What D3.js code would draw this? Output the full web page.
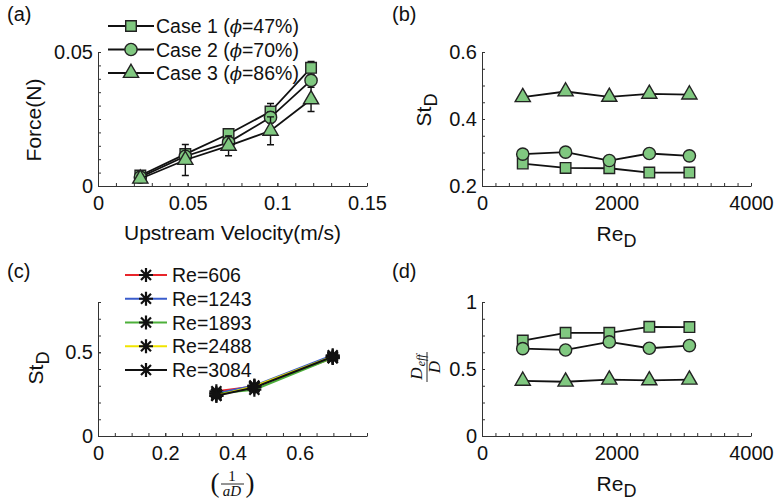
<!DOCTYPE html>
<html>
<head>
<meta charset="utf-8">
<script src="https://cdn.jsdelivr.net/npm/d3@7"></script>
<style>
body { margin: 0; background: #fff; }
text { font-family: "Liberation Sans", Arial, Helvetica, sans-serif; fill: #111; }
.tex { font-family: "Liberation Serif", "Times New Roman", serif; }
</style>
</head>
<body>
<script>
var width = 776,
    height = 504;

// (a) drag force vs upstream velocity
var velocity = [0.0236, 0.0487, 0.0728, 0.0962, 0.1188];
var forceCase1 = [0.0039, 0.0119, 0.0194, 0.0278, 0.0441];
var forceCase2 = [0.0033, 0.0111, 0.0163, 0.0256, 0.0394];
var forceCase3 = [0.0027, 0.0097, 0.0150, 0.0206, 0.0323];
var errCase1 = [0.0015, 0.0016, 0.0010, 0.0030, 0.0024];
var errCase2 = [0.0010, 0.0013, 0.0014, 0.0020, 0.0016];
var errCase3 = [0.0012, 0.0058, 0.0037, 0.0052, 0.0045];
var caseNames = ["Case 1", "Case 2", "Case 3"];
var porosity = ["47%", "70%", "86%"];

// (b) Strouhal number and (d) effective diameter vs Re
var reynolds = [606, 1243, 1893, 2488, 3084];
var stCase1 = [0.267, 0.254, 0.253, 0.240, 0.240];
var stCase2 = [0.295, 0.301, 0.276, 0.297, 0.290];
var stCase3 = [0.465, 0.482, 0.466, 0.475, 0.473];
var deffCase1 = [0.712, 0.770, 0.770, 0.815, 0.813];
var deffCase2 = [0.652, 0.642, 0.702, 0.655, 0.675];
var deffCase3 = [0.412, 0.405, 0.420, 0.415, 0.420];

// (c) St vs 1/(aD), one line per Re
var invAD = [0.352, 0.465, 0.698];
var reColors = ["#e8252b", "#3a5ccc", "#4db03a", "#f0e400", "#111111"];

// tick values
var xTicksA = [0, 0.05, 0.1, 0.15],
    yTicksA = [0, 0.05],
    xTicksRe = [0, 2000, 4000],
    yTicksB = [0.2, 0.4, 0.6],
    xTicksC = [0, 0.2, 0.4, 0.6],
    yTicksC = [0, 0.5],
    yTicksD = [0, 0.5, 1];

var green = "#80c880",
    edge = "#222";

var svg = d3.select("body")
            .append("svg")
            .attr("width", width)
            .attr("height", height);

var pw = 269, ph = 134;

function minorTicks(domain, step) {
    var n = Math.round((domain[1] - domain[0]) / step);
    return d3.range(n + 1).map(function(i) { return domain[0] + i * step; });
}

// matlab style axes: box off, ticks pointing in
function panel(left, top, xDomain, yDomain, xTicks, yTicks, xMinor, yMinor) {
    var g = svg.append("g").attr("transform", "translate(" + left + "," + top + ")");
    var x = d3.scaleLinear().domain(xDomain).range([0, pw]);
    var y = d3.scaleLinear().domain(yDomain).range([ph, 0]);

    g.append("g")
        .attr("transform", "translate(0," + ph + ")")
        .call(d3.axisBottom(x).tickValues(minorTicks(xDomain, xMinor)).tickSize(-3).tickFormat(""))
        .call(function(a) { a.select(".domain").remove(); });
    g.append("g")
        .call(d3.axisLeft(y).tickValues(minorTicks(yDomain, yMinor)).tickSize(-3).tickFormat(""))
        .call(function(a) { a.select(".domain").remove(); });

    g.append("g")
        .attr("transform", "translate(0," + ph + ")")
        .call(d3.axisBottom(x).tickValues(xTicks).tickSizeInner(-3).tickSizeOuter(0)
            .tickPadding(10).tickFormat(function(d) { return String(d); }));
    g.append("g")
        .call(d3.axisLeft(y).tickValues(yTicks).tickSizeInner(-3).tickSizeOuter(0)
            .tickPadding(5).tickFormat(function(d) { return String(d); }));

    g.selectAll(".tick text").attr("font-size", 20).attr("font-family", null).attr("fill", "#111");
    g.selectAll(".domain, .tick line").attr("stroke", "#333");
    return {g: g, x: x, y: y};
}

var symbols = {
    square: d3.symbol(d3.symbolSquare, 112)(),
    circle: d3.symbol(d3.symbolCircle, 118)(),
    triangle: d3.symbol(d3.symbolTriangle, 100)()
};
var asterisk = "M-7,0H7M0,-7V7M-5,-5L5,5M-5,5L5,-5";

function drawMarkers(g, xs, ys, shape) {
    g.append("g").selectAll("path")
        .data(xs)
        .enter().append("path")
        .attr("transform", function(d, i) { return "translate(" + d + "," + ys[i] + ")"; })
        .attr("d", symbols[shape])
        .attr("fill", green)
        .attr("stroke", edge)
        .attr("stroke-width", 1.4);
}

function drawLine(g, xs, ys, color, w) {
    g.append("path")
        .datum(xs)
        .attr("fill", "none")
        .attr("stroke", color)
        .attr("stroke-width", w)
        .attr("d", d3.line().x(function(d) { return d; }).y(function(d, i) { return ys[i]; }));
}

function panelLabel(txt, x, y) {
    svg.append("text").attr("x", x).attr("y", y).attr("font-size", 20).text(txt);
}

var shapes = ["square", "circle", "triangle"];

// ---------------- (a)
var A = panel(98, 52, [0, 0.15], [0, 0.05], xTicksA, yTicksA, 0.01, 0.005);
var forces = [forceCase1, forceCase2, forceCase3],
    errs = [errCase1, errCase2, errCase3];

forces.forEach(function(f, k) {
    var xs = velocity.map(function(v) { return A.x(v); });
    var ys = f.map(function(v) { return A.y(v); });
    A.g.append("g").selectAll("path")
        .data(velocity)
        .enter().append("path")
        .attr("fill", "none")
        .attr("stroke", "#111")
        .attr("stroke-width", 1.4)
        .attr("d", function(v, i) {
            var cx = A.x(v), y1 = A.y(f[i] - errs[k][i]), y2 = A.y(f[i] + errs[k][i]);
            return "M" + cx + "," + y1 + "V" + y2 + "M" + (cx - 3.5) + "," + y1 + "h7M" + (cx - 3.5) + "," + y2 + "h7";
        });
    drawLine(A.g, xs, ys, "#111", 1.8);
    drawMarkers(A.g, xs, ys, shapes[k]);
});

// legend (a)
caseNames.forEach(function(name, k) {
    var ly = 26 + k * 23.5;
    svg.append("line").attr("x1", 108).attr("x2", 154).attr("y1", ly).attr("y2", ly)
        .attr("stroke", "#111").attr("stroke-width", 1.8);
    drawMarkers(svg, [131], [ly], shapes[k]);
    var t = svg.append("text").attr("x", 156).attr("y", ly).attr("dy", "0.36em").attr("font-size", 19.5);
    t.append("tspan").text(name + " (");
    t.append("tspan").attr("font-family", "DejaVu Serif, serif").attr("font-style", "italic").attr("font-size", 18).text("\u03D5");
    t.append("tspan").text("=" + porosity[k] + ")");
});

svg.append("text").attr("x", 98 + pw / 2).attr("y", 240).attr("text-anchor", "middle")
    .attr("font-size", 21).text("Upstream Velocity(m/s)");
svg.append("text").attr("transform", "translate(41,120) rotate(-90)").attr("text-anchor", "middle")
    .attr("font-size", 21).text("Force(N)");
panelLabel("(a)", 7, 21);

// ---------------- (b)
var B = panel(482, 52, [0, 4000], [0.2, 0.6], xTicksRe, yTicksB, 200, 0.05);
[stCase1, stCase2, stCase3].forEach(function(s, k) {
    var xs = reynolds.map(function(v) { return B.x(v); });
    var ys = s.map(function(v) { return B.y(v); });
    drawLine(B.g, xs, ys, "#111", 1.8);
    drawMarkers(B.g, xs, ys, shapes[k]);
});

function subLabel(x, y, main, sub, rotate) {
    var t = svg.append("text")
        .attr("transform", "translate(" + x + "," + y + ")" + (rotate ? " rotate(-90)" : ""))
        .attr("text-anchor", "middle").attr("font-size", 21);
    t.append("tspan").text(main);
    t.append("tspan").attr("dy", 6).attr("font-size", 18).text(sub);
}
subLabel(482 + pw / 2, 241, "Re", "D", false);
subLabel(431, 110, "St", "D", true);
panelLabel("(b)", 392, 21);

// ---------------- (c)
var C = panel(98, 302, [0, 0.8], [0, 0.8], xTicksC, yTicksC, 0.05, 0.1);
reynolds.forEach(function(re, r) {
    var st = [stCase1[r], stCase2[r], stCase3[r]];
    var xs = invAD.map(function(v) { return C.x(v); });
    var ys = st.map(function(v) { return C.y(v); });
    drawLine(C.g, xs, ys, reColors[r], 2);
    C.g.append("g").selectAll("path")
        .data(xs)
        .enter().append("path")
        .attr("transform", function(d, i) { return "translate(" + d + "," + ys[i] + ")"; })
        .attr("d", asterisk)
        .attr("stroke", "#111")
        .attr("stroke-width", 2.2);
});

// legend (c)
reynolds.forEach(function(re, r) {
    var ly = 275 + r * 23.75;
    svg.append("line").attr("x1", 125).attr("x2", 167).attr("y1", ly).attr("y2", ly)
        .attr("stroke", reColors[r]).attr("stroke-width", 2);
    svg.append("path").attr("transform", "translate(146," + ly + ")").attr("d", asterisk)
        .attr("stroke", "#111").attr("stroke-width", 2.2);
    svg.append("text").attr("x", 172).attr("y", ly).attr("dy", "0.36em").attr("font-size", 19.5)
        .text("Re=" + re);
});

subLabel(43, 368, "St", "D", true);

// x label (1/aD)
var fx = svg.append("g").attr("transform", "translate(232,0)");
fx.append("text").attr("class", "tex").attr("x", -17).attr("y", 492).attr("text-anchor", "middle")
    .attr("font-size", 27).text("(");
fx.append("text").attr("class", "tex").attr("x", 18).attr("y", 492).attr("text-anchor", "middle")
    .attr("font-size", 27).text(")");
fx.append("text").attr("class", "tex").attr("x", 0).attr("y", 481).attr("text-anchor", "middle")
    .attr("font-size", 15).text("1");
fx.append("line").attr("x1", -11).attr("x2", 12).attr("y1", 484).attr("y2", 484)
    .attr("stroke", "#111").attr("stroke-width", 0.9);
fx.append("text").attr("class", "tex").attr("x", 0).attr("y", 496).attr("text-anchor", "middle")
    .attr("font-size", 15).attr("font-style", "italic").text("aD");
panelLabel("(c)", 7, 278);

// ---------------- (d)
var D = panel(482, 302, [0, 4000], [0, 1], xTicksRe, yTicksD, 200, 0.125);
[deffCase1, deffCase2, deffCase3].forEach(function(s, k) {
    var xs = reynolds.map(function(v) { return D.x(v); });
    var ys = s.map(function(v) { return D.y(v); });
    drawLine(D.g, xs, ys, "#111", 1.8);
    drawMarkers(D.g, xs, ys, shapes[k]);
});
subLabel(482 + pw / 2, 491, "Re", "D", false);

// y label D_eff / D
var fy = svg.append("g").attr("transform", "translate(427,367) rotate(-90)");
var num = fy.append("text").attr("class", "tex").attr("y", -5).attr("text-anchor", "middle")
    .attr("font-size", 17).attr("font-style", "italic");
num.append("tspan").text("D");
num.append("tspan").attr("dx", 1).attr("dy", 3).attr("font-size", 12).text("eff");
fy.append("line").attr("x1", -15).attr("x2", 15).attr("y1", 0).attr("y2", 0)
    .attr("stroke", "#111").attr("stroke-width", 0.9);
fy.append("text").attr("class", "tex").attr("y", 13).attr("text-anchor", "middle")
    .attr("font-size", 17).attr("font-style", "italic").text("D");
panelLabel("(d)", 392, 278);
</script>
</body>
</html>
